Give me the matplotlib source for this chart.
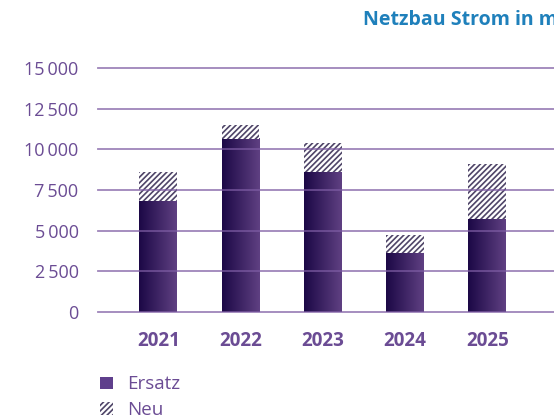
import numpy as np
import matplotlib
matplotlib.use("Agg")
import matplotlib.pyplot as plt
from matplotlib.patches import Patch

plt.rcParams['font.family'] = ['Open Sans', 'DejaVu Sans']
plt.rcParams['hatch.linewidth'] = 1.2

# data
years = ['2021', '2022', '2023', '2024', '2025']
ersatz = [6800, 10650, 8600, 3600, 5700]
neu = [1800, 850, 1800, 1150, 3400]
yticks = [0, 2500, 5000, 7500, 10000, 12500, 15000]
ytick_labels = ['0', '2\u2009500', '5\u2009000', '7\u2009500', '10\u2009000', '12\u2009500', '15\u2009000']

purple_txt = '#6b4c94'
grid_col = '#7d5ca3'
hatch_col = '#4f4568'

W, H = 554, 419
fig = plt.figure(figsize=(W / 100, H / 100), dpi=100)
ax = fig.add_axes([98 / W, 1 - 312 / H, (W - 98) / W, (312 - 68) / H])

x = np.arange(len(years))
bw = 0.46

# gradient fill for Ersatz bars (dark left -> lighter right)
grad = np.linspace(0, 1, 64).reshape(1, -1)
cmap = matplotlib.colors.LinearSegmentedColormap.from_list('bar', ['#1c0846', '#5f4082'])
for xi, e in zip(x, ersatz):
    ax.imshow(grad, cmap=cmap, extent=[xi - bw / 2, xi + bw / 2, 0, e],
              aspect='auto', zorder=2, interpolation='bilinear')

ax.bar(x, neu, bw, bottom=ersatz, color='white', edgecolor=hatch_col,
       hatch='//////', linewidth=0, zorder=2)

for t in yticks:
    ax.axhline(t, color=grid_col, lw=1.3, alpha=0.75, zorder=3, clip_on=False)

ax.set_xlim(-0.733, 4.81)
ax.set_ylim(0, 15000)
for s in ax.spines.values():
    s.set_visible(False)
ax.set_yticks(yticks)
ax.set_yticklabels(ytick_labels)
ax.set_xticks(x)
ax.set_xticklabels(years, fontweight='bold')
ax.tick_params(axis='y', length=0, pad=14, labelsize=13, labelcolor=purple_txt)
ax.tick_params(axis='x', length=0, pad=14, labelsize=13.5, labelcolor=purple_txt)

fig.text(363 / W, 1 - 20 / H, 'Netzbau Strom in m', color='#1f80bb',
         fontsize=14, fontweight='bold', ha='left', va='center')

handles = [Patch(facecolor='#5f3f8c', edgecolor='none'),
           Patch(facecolor='white', edgecolor=hatch_col, hatch='//////', linewidth=0)]
fig.legend(handles, ['Ersatz', 'Neu'], loc='upper left',
           bbox_to_anchor=(91 / W, 1 - 366 / H), frameon=False, borderpad=0,
           handlelength=0.65, handleheight=0.65, handletextpad=0.8,
           labelspacing=0.4, fontsize=13.5, labelcolor=purple_txt)

fig.savefig('out.png', dpi=100)
